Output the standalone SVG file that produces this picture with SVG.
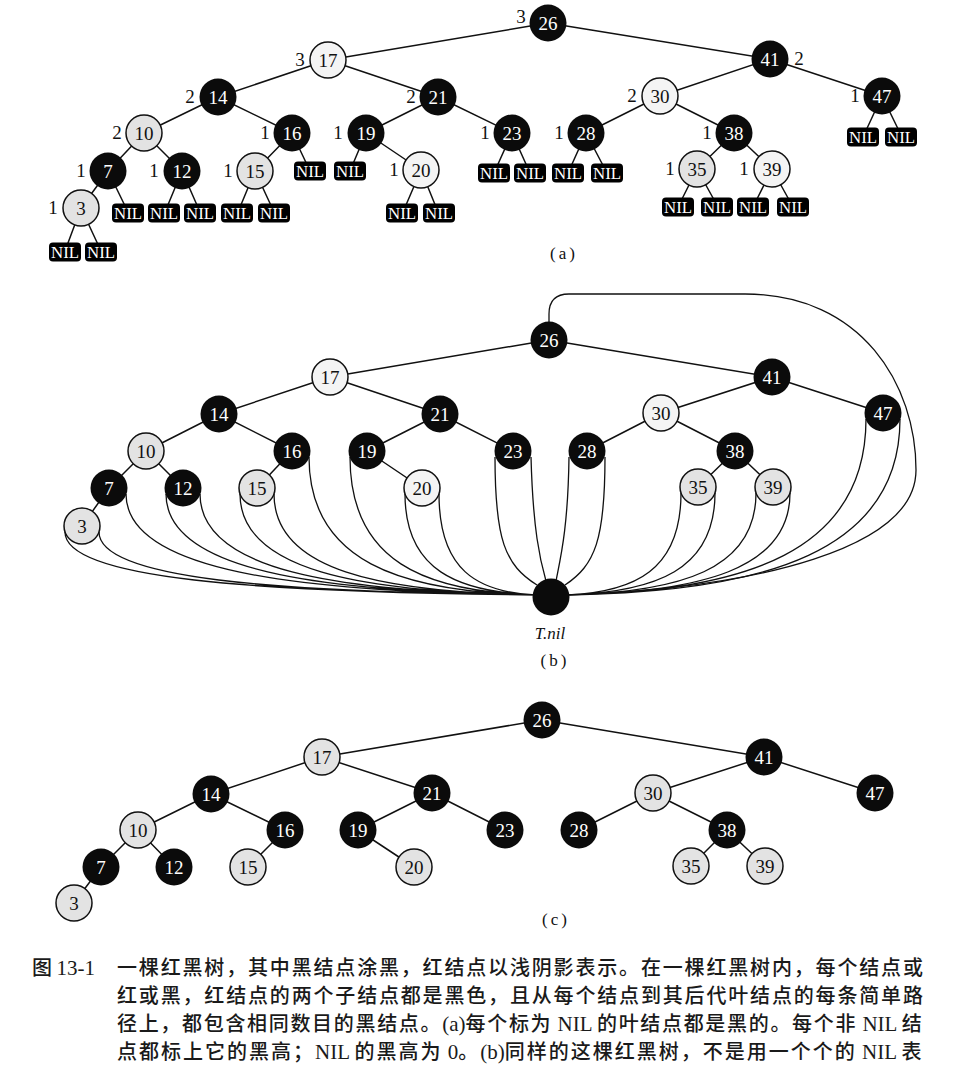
<svg xmlns="http://www.w3.org/2000/svg" width="954" height="1069" viewBox="0 0 954 1069">
<style>
.e{stroke:#111;stroke-width:1.5;fill:none}
.c{stroke:#111;stroke-width:1.3;fill:none}
.b circle{fill:#0b0b0b}
.b text{fill:#fff}
.r circle{fill:#e3e3e3;stroke:#111;stroke-width:1.5}
.l circle{fill:#f4f4f4;stroke:#111;stroke-width:1.5}
.r text,.l text{fill:#111}
text{font-family:"Liberation Serif","Times New Roman",serif}
.n text{font-size:19px;text-anchor:middle}
.h{font-size:19px;text-anchor:middle;fill:#111}
.nil rect{fill:#0b0b0b}
.nil text{fill:#fff;font-size:16px;text-anchor:middle}
.lab{font-size:17px;text-anchor:middle;fill:#111;letter-spacing:3px}
.cap{font-family:"Noto Sans CJK SC","Liberation Serif",sans-serif;font-size:20px;font-weight:500;fill:#1a1a1a}
.cap tspan.s{font-family:"Liberation Serif",serif;font-size:21px;letter-spacing:0}
</style>
<defs>
<rect id="nilbox" x="-16" y="-9.5" width="32" height="19" rx="4"/>
</defs>

<!-- ============ (a) ============ -->
<g id="a-edges">
<path class="e" d="M548,23L328,60M548,23L770,59M328,60L218,97M328,60L438,97M770,59L660,96M770,59L882,96M218,97L144,133M218,97L292,133M438,97L366,133M438,97L512,133M660,96L586,133M660,96L734,133M144,133L108,171M144,133L182,171M292,133L255,171M366,133L421,170M734,133L697,169M734,133L772,169M108,171L81,208"/>
<path class="e" d="M81,208L65,251M81,208L101,251M108,171L128,212M182,171L165,212M182,171L200,212M255,171L238,212M255,171L274,212M292,133L310,171M366,133L350,171M421,170L403,212M421,170L438,212M512,133L494,173M512,133L530,173M586,133L568,173M586,133L607,173M697,169L678,207M697,169L718,207M772,169L753,207M772,169L793,207M882,96L863,137M882,96L902,137"/>
</g>
<g id="a-nils" class="nil">
<g id="a-nil-3L" transform="translate(65,252)"><use href="#nilbox"/><text y="5.5" textLength="28" lengthAdjust="spacingAndGlyphs">NIL</text></g>
<g id="a-nil-3R" transform="translate(101,252)"><use href="#nilbox"/><text y="5.5" textLength="28" lengthAdjust="spacingAndGlyphs">NIL</text></g>
<g id="a-nil-7R" transform="translate(128,213)"><use href="#nilbox"/><text y="5.5" textLength="28" lengthAdjust="spacingAndGlyphs">NIL</text></g>
<g id="a-nil-12L" transform="translate(164,213)"><use href="#nilbox"/><text y="5.5" textLength="28" lengthAdjust="spacingAndGlyphs">NIL</text></g>
<g id="a-nil-12R" transform="translate(200,213)"><use href="#nilbox"/><text y="5.5" textLength="28" lengthAdjust="spacingAndGlyphs">NIL</text></g>
<g id="a-nil-15L" transform="translate(237,213)"><use href="#nilbox"/><text y="5.5" textLength="28" lengthAdjust="spacingAndGlyphs">NIL</text></g>
<g id="a-nil-15R" transform="translate(274,213)"><use href="#nilbox"/><text y="5.5" textLength="28" lengthAdjust="spacingAndGlyphs">NIL</text></g>
<g id="a-nil-16R" transform="translate(310,171)"><use href="#nilbox"/><text y="5.5" textLength="28" lengthAdjust="spacingAndGlyphs">NIL</text></g>
<g id="a-nil-19L" transform="translate(350,171)"><use href="#nilbox"/><text y="5.5" textLength="28" lengthAdjust="spacingAndGlyphs">NIL</text></g>
<g id="a-nil-20L" transform="translate(402,213)"><use href="#nilbox"/><text y="5.5" textLength="28" lengthAdjust="spacingAndGlyphs">NIL</text></g>
<g id="a-nil-20R" transform="translate(439,213)"><use href="#nilbox"/><text y="5.5" textLength="28" lengthAdjust="spacingAndGlyphs">NIL</text></g>
<g id="a-nil-23L" transform="translate(494,173)"><use href="#nilbox"/><text y="5.5" textLength="28" lengthAdjust="spacingAndGlyphs">NIL</text></g>
<g id="a-nil-23R" transform="translate(530,173)"><use href="#nilbox"/><text y="5.5" textLength="28" lengthAdjust="spacingAndGlyphs">NIL</text></g>
<g id="a-nil-28L" transform="translate(568,173)"><use href="#nilbox"/><text y="5.5" textLength="28" lengthAdjust="spacingAndGlyphs">NIL</text></g>
<g id="a-nil-28R" transform="translate(607,173)"><use href="#nilbox"/><text y="5.5" textLength="28" lengthAdjust="spacingAndGlyphs">NIL</text></g>
<g id="a-nil-35L" transform="translate(678,207)"><use href="#nilbox"/><text y="5.5" textLength="28" lengthAdjust="spacingAndGlyphs">NIL</text></g>
<g id="a-nil-35R" transform="translate(717,207)"><use href="#nilbox"/><text y="5.5" textLength="28" lengthAdjust="spacingAndGlyphs">NIL</text></g>
<g id="a-nil-39L" transform="translate(753,207)"><use href="#nilbox"/><text y="5.5" textLength="28" lengthAdjust="spacingAndGlyphs">NIL</text></g>
<g id="a-nil-39R" transform="translate(793,207)"><use href="#nilbox"/><text y="5.5" textLength="28" lengthAdjust="spacingAndGlyphs">NIL</text></g>
<g id="a-nil-47L" transform="translate(863,137)"><use href="#nilbox"/><text y="5.5" textLength="28" lengthAdjust="spacingAndGlyphs">NIL</text></g>
<g id="a-nil-47R" transform="translate(901,137)"><use href="#nilbox"/><text y="5.5" textLength="28" lengthAdjust="spacingAndGlyphs">NIL</text></g>
</g>
<g id="a-n26" class="n b"><circle cx="548" cy="23" r="18.5"/><text x="548" y="29.5">26</text></g>
<g id="a-n17" class="n l"><circle cx="328" cy="60" r="18"/><text x="328" y="66.5">17</text></g>
<g id="a-n41" class="n b"><circle cx="770" cy="59" r="18.5"/><text x="770" y="65.5">41</text></g>
<g id="a-n14" class="n b"><circle cx="218" cy="97" r="18.5"/><text x="218" y="103.5">14</text></g>
<g id="a-n21" class="n b"><circle cx="438" cy="97" r="18.5"/><text x="438" y="103.5">21</text></g>
<g id="a-n30" class="n l"><circle cx="660" cy="96" r="18"/><text x="660" y="102.5">30</text></g>
<g id="a-n47" class="n b"><circle cx="882" cy="96" r="18.5"/><text x="882" y="102.5">47</text></g>
<g id="a-n10" class="n r"><circle cx="144" cy="133" r="18"/><text x="144" y="139.5">10</text></g>
<g id="a-n16" class="n b"><circle cx="292" cy="133" r="18.5"/><text x="292" y="139.5">16</text></g>
<g id="a-n19" class="n b"><circle cx="366" cy="133" r="18.5"/><text x="366" y="139.5">19</text></g>
<g id="a-n23" class="n b"><circle cx="512" cy="133" r="18.5"/><text x="512" y="139.5">23</text></g>
<g id="a-n28" class="n b"><circle cx="586" cy="133" r="18.5"/><text x="586" y="139.5">28</text></g>
<g id="a-n38" class="n b"><circle cx="734" cy="133" r="18.5"/><text x="734" y="139.5">38</text></g>
<g id="a-n7" class="n b"><circle cx="108" cy="171" r="18.5"/><text x="108" y="177.5">7</text></g>
<g id="a-n12" class="n b"><circle cx="182" cy="171" r="18.5"/><text x="182" y="177.5">12</text></g>
<g id="a-n15" class="n r"><circle cx="255" cy="171" r="18"/><text x="255" y="177.5">15</text></g>
<g id="a-n20" class="n l"><circle cx="421" cy="170" r="18"/><text x="421" y="176.5">20</text></g>
<g id="a-n35" class="n r"><circle cx="697" cy="169" r="18"/><text x="697" y="175.5">35</text></g>
<g id="a-n39" class="n l"><circle cx="772" cy="169" r="18"/><text x="772" y="175.5">39</text></g>
<g id="a-n3" class="n r"><circle cx="81" cy="208" r="18"/><text x="81" y="214.5">3</text></g>
<g id="a-bh">
<text class="h" x="521" y="23">3</text>
<text class="h" x="300" y="66">3</text>
<text class="h" x="799" y="65">2</text>
<text class="h" x="190" y="103">2</text>
<text class="h" x="411" y="103">2</text>
<text class="h" x="632" y="102">2</text>
<text class="h" x="855" y="102">1</text>
<text class="h" x="117" y="139">2</text>
<text class="h" x="265" y="139">1</text>
<text class="h" x="338" y="139">1</text>
<text class="h" x="485" y="139">1</text>
<text class="h" x="559" y="139">1</text>
<text class="h" x="707" y="139">1</text>
<text class="h" x="81" y="177">1</text>
<text class="h" x="154" y="177">1</text>
<text class="h" x="228" y="177">1</text>
<text class="h" x="394" y="176">1</text>
<text class="h" x="670" y="175">1</text>
<text class="h" x="744" y="175">1</text>
<text class="h" x="53" y="214">1</text>
</g>
<text class="lab" x="564" y="259">(a)</text>

<!-- ============ (b) ============ -->
<g id="b-edges">
<path class="e" d="M549,340L330,377M549,340L772,377M330,377L219,414M330,377L440,414M772,377L661,413M772,377L883,413M219,414L146,451M219,414L292,451M440,414L367,451M440,414L513,451M661,413L587,451M661,413L735,451M146,451L109,488M146,451L183,488M292,451L257,488M367,451L422,488M735,451L698,487M735,451L773,487M109,488L82,526"/>
<path class="c" d="M65,532C65,579 253,592 535,595M99,532C99,579 273,592 535,595M126,494C126,570 290,592 535,595M166,494C166,570 314,592 535,595M200,494C200,570 334,592 535,595M240,494C240,570 358,592 535,595M274,494C274,570 378,592 535,595M309,457C309,561 399,592 535,595M350,457C350,561 424,592 535,595M405,494C405,570 457,592 535,595M439,494C439,570 477,592 535,595"/>
<path class="c" d="M495,457C495,540 505,565 537,585M531,457C533,530 540,560 546,581M569,457C568,530 560,560 556,581M605,457C605,540 595,565 565,585"/>
<path class="c" d="M681,493C681,570 635,592 567,595M715,493C715,570 656,592 567,595M756,493C756,570 680,592 567,595M790,493C790,570 700,592 567,595M866,419C866,551 747,592 567,595M900,419C900,551 767,592 567,595"/>
<path class="c" d="M549,340L549,314Q549,294 569,294L745,294C862,294 916,385 916,470C916,548 760,588 567,595"/>
</g>
<g id="b-n26" class="n b"><circle cx="549" cy="340" r="18.5"/><text x="549" y="346.5">26</text></g>
<g id="b-n17" class="n l"><circle cx="330" cy="377" r="18"/><text x="330" y="383.5">17</text></g>
<g id="b-n41" class="n b"><circle cx="772" cy="377" r="18.5"/><text x="772" y="383.5">41</text></g>
<g id="b-n14" class="n b"><circle cx="219" cy="414" r="18.5"/><text x="219" y="420.5">14</text></g>
<g id="b-n21" class="n b"><circle cx="440" cy="414" r="18.5"/><text x="440" y="420.5">21</text></g>
<g id="b-n30" class="n l"><circle cx="661" cy="413" r="18"/><text x="661" y="419.5">30</text></g>
<g id="b-n47" class="n b"><circle cx="883" cy="413" r="18.5"/><text x="883" y="419.5">47</text></g>
<g id="b-n10" class="n r"><circle cx="146" cy="451" r="18"/><text x="146" y="457.5">10</text></g>
<g id="b-n16" class="n b"><circle cx="292" cy="451" r="18.5"/><text x="292" y="457.5">16</text></g>
<g id="b-n19" class="n b"><circle cx="367" cy="451" r="18.5"/><text x="367" y="457.5">19</text></g>
<g id="b-n23" class="n b"><circle cx="513" cy="451" r="18.5"/><text x="513" y="457.5">23</text></g>
<g id="b-n28" class="n b"><circle cx="587" cy="451" r="18.5"/><text x="587" y="457.5">28</text></g>
<g id="b-n38" class="n b"><circle cx="735" cy="451" r="18.5"/><text x="735" y="457.5">38</text></g>
<g id="b-n7" class="n b"><circle cx="109" cy="488" r="18.5"/><text x="109" y="494.5">7</text></g>
<g id="b-n12" class="n b"><circle cx="183" cy="488" r="18.5"/><text x="183" y="494.5">12</text></g>
<g id="b-n15" class="n r"><circle cx="257" cy="488" r="18"/><text x="257" y="494.5">15</text></g>
<g id="b-n20" class="n l"><circle cx="422" cy="488" r="18"/><text x="422" y="494.5">20</text></g>
<g id="b-n35" class="n r"><circle cx="698" cy="487" r="18"/><text x="698" y="493.5">35</text></g>
<g id="b-n39" class="n r"><circle cx="773" cy="487" r="18"/><text x="773" y="493.5">39</text></g>
<g id="b-n3" class="n r"><circle cx="82" cy="526" r="18"/><text x="82" y="532.5">3</text></g>
<g id="b-tnil" class="n b"><circle cx="551" cy="597" r="18.5"/></g>
<text x="550" y="639" style="font-size:17px;font-style:italic;text-anchor:middle;fill:#111">T.nil</text>
<text class="lab" x="555" y="666">(b)</text>

<!-- ============ (c) ============ -->
<g id="c-edges">
<path class="e" d="M542,720L322,757M542,720L764,757M322,757L211,794M322,757L432,793M764,757L653,793M764,757L875,793M211,794L138,830M211,794L285,830M432,793L358,830M432,793L505,830M653,793L579,830M653,793L727,830M138,830L101,867M138,830L174,867M285,830L248,867M358,830L414,867M727,830L691,866M727,830L765,866M101,867L74,903"/>
</g>
<g id="c-n26" class="n b"><circle cx="542" cy="720" r="18.5"/><text x="542" y="726.5">26</text></g>
<g id="c-n17" class="n r"><circle cx="322" cy="757" r="18"/><text x="322" y="763.5">17</text></g>
<g id="c-n41" class="n b"><circle cx="764" cy="757" r="18.5"/><text x="764" y="763.5">41</text></g>
<g id="c-n14" class="n b"><circle cx="211" cy="794" r="18.5"/><text x="211" y="800.5">14</text></g>
<g id="c-n21" class="n b"><circle cx="432" cy="793" r="18.5"/><text x="432" y="799.5">21</text></g>
<g id="c-n30" class="n r"><circle cx="653" cy="793" r="18"/><text x="653" y="799.5">30</text></g>
<g id="c-n47" class="n b"><circle cx="875" cy="793" r="18.5"/><text x="875" y="799.5">47</text></g>
<g id="c-n10" class="n r"><circle cx="138" cy="830" r="18"/><text x="138" y="836.5">10</text></g>
<g id="c-n16" class="n b"><circle cx="285" cy="830" r="18.5"/><text x="285" y="836.5">16</text></g>
<g id="c-n19" class="n b"><circle cx="358" cy="830" r="18.5"/><text x="358" y="836.5">19</text></g>
<g id="c-n23" class="n b"><circle cx="505" cy="830" r="18.5"/><text x="505" y="836.5">23</text></g>
<g id="c-n28" class="n b"><circle cx="579" cy="830" r="18.5"/><text x="579" y="836.5">28</text></g>
<g id="c-n38" class="n b"><circle cx="727" cy="830" r="18.5"/><text x="727" y="836.5">38</text></g>
<g id="c-n7" class="n b"><circle cx="101" cy="867" r="18.5"/><text x="101" y="873.5">7</text></g>
<g id="c-n12" class="n b"><circle cx="174" cy="867" r="18.5"/><text x="174" y="873.5">12</text></g>
<g id="c-n15" class="n r"><circle cx="248" cy="867" r="18"/><text x="248" y="873.5">15</text></g>
<g id="c-n20" class="n r"><circle cx="414" cy="867" r="18"/><text x="414" y="873.5">20</text></g>
<g id="c-n35" class="n r"><circle cx="691" cy="866" r="18"/><text x="691" y="872.5">35</text></g>
<g id="c-n39" class="n r"><circle cx="765" cy="866" r="18"/><text x="765" y="872.5">39</text></g>
<g id="c-n3" class="n r"><circle cx="74" cy="903" r="18"/><text x="74" y="909.5">3</text></g>
<text class="lab" x="556" y="925">(c)</text>

<!-- ============ caption ============ -->
<g id="caption">
<text class="cap" x="32" y="975">图 <tspan class="s">13-1</tspan></text>
<text class="cap" x="117" y="975" style="letter-spacing:1.83px">一棵红黑树，其中黑结点涂黑，红结点以浅阴影表示。在一棵红黑树内，每个结点或</text>
<text class="cap" x="117" y="1003" style="letter-spacing:1.83px">红或黑，红结点的两个子结点都是黑色，且从每个结点到其后代叶结点的每条简单路</text>
<text class="cap" x="117" y="1031" style="letter-spacing:1.68px">径上，都包含相同数目的黑结点。<tspan class="s">(a)</tspan>每个标为<tspan class="s"> NIL </tspan>的叶结点都是黑的。每个非<tspan class="s"> NIL </tspan>结</text>
<text class="cap" x="117" y="1059" style="letter-spacing:2px">点都标上它的黑高；<tspan class="s">NIL </tspan>的黑高为<tspan class="s"> 0</tspan>。<tspan class="s">(b)</tspan>同样的这棵红黑树，不是用一个个的<tspan class="s"> NIL </tspan>表</text>
</g>
</svg>
